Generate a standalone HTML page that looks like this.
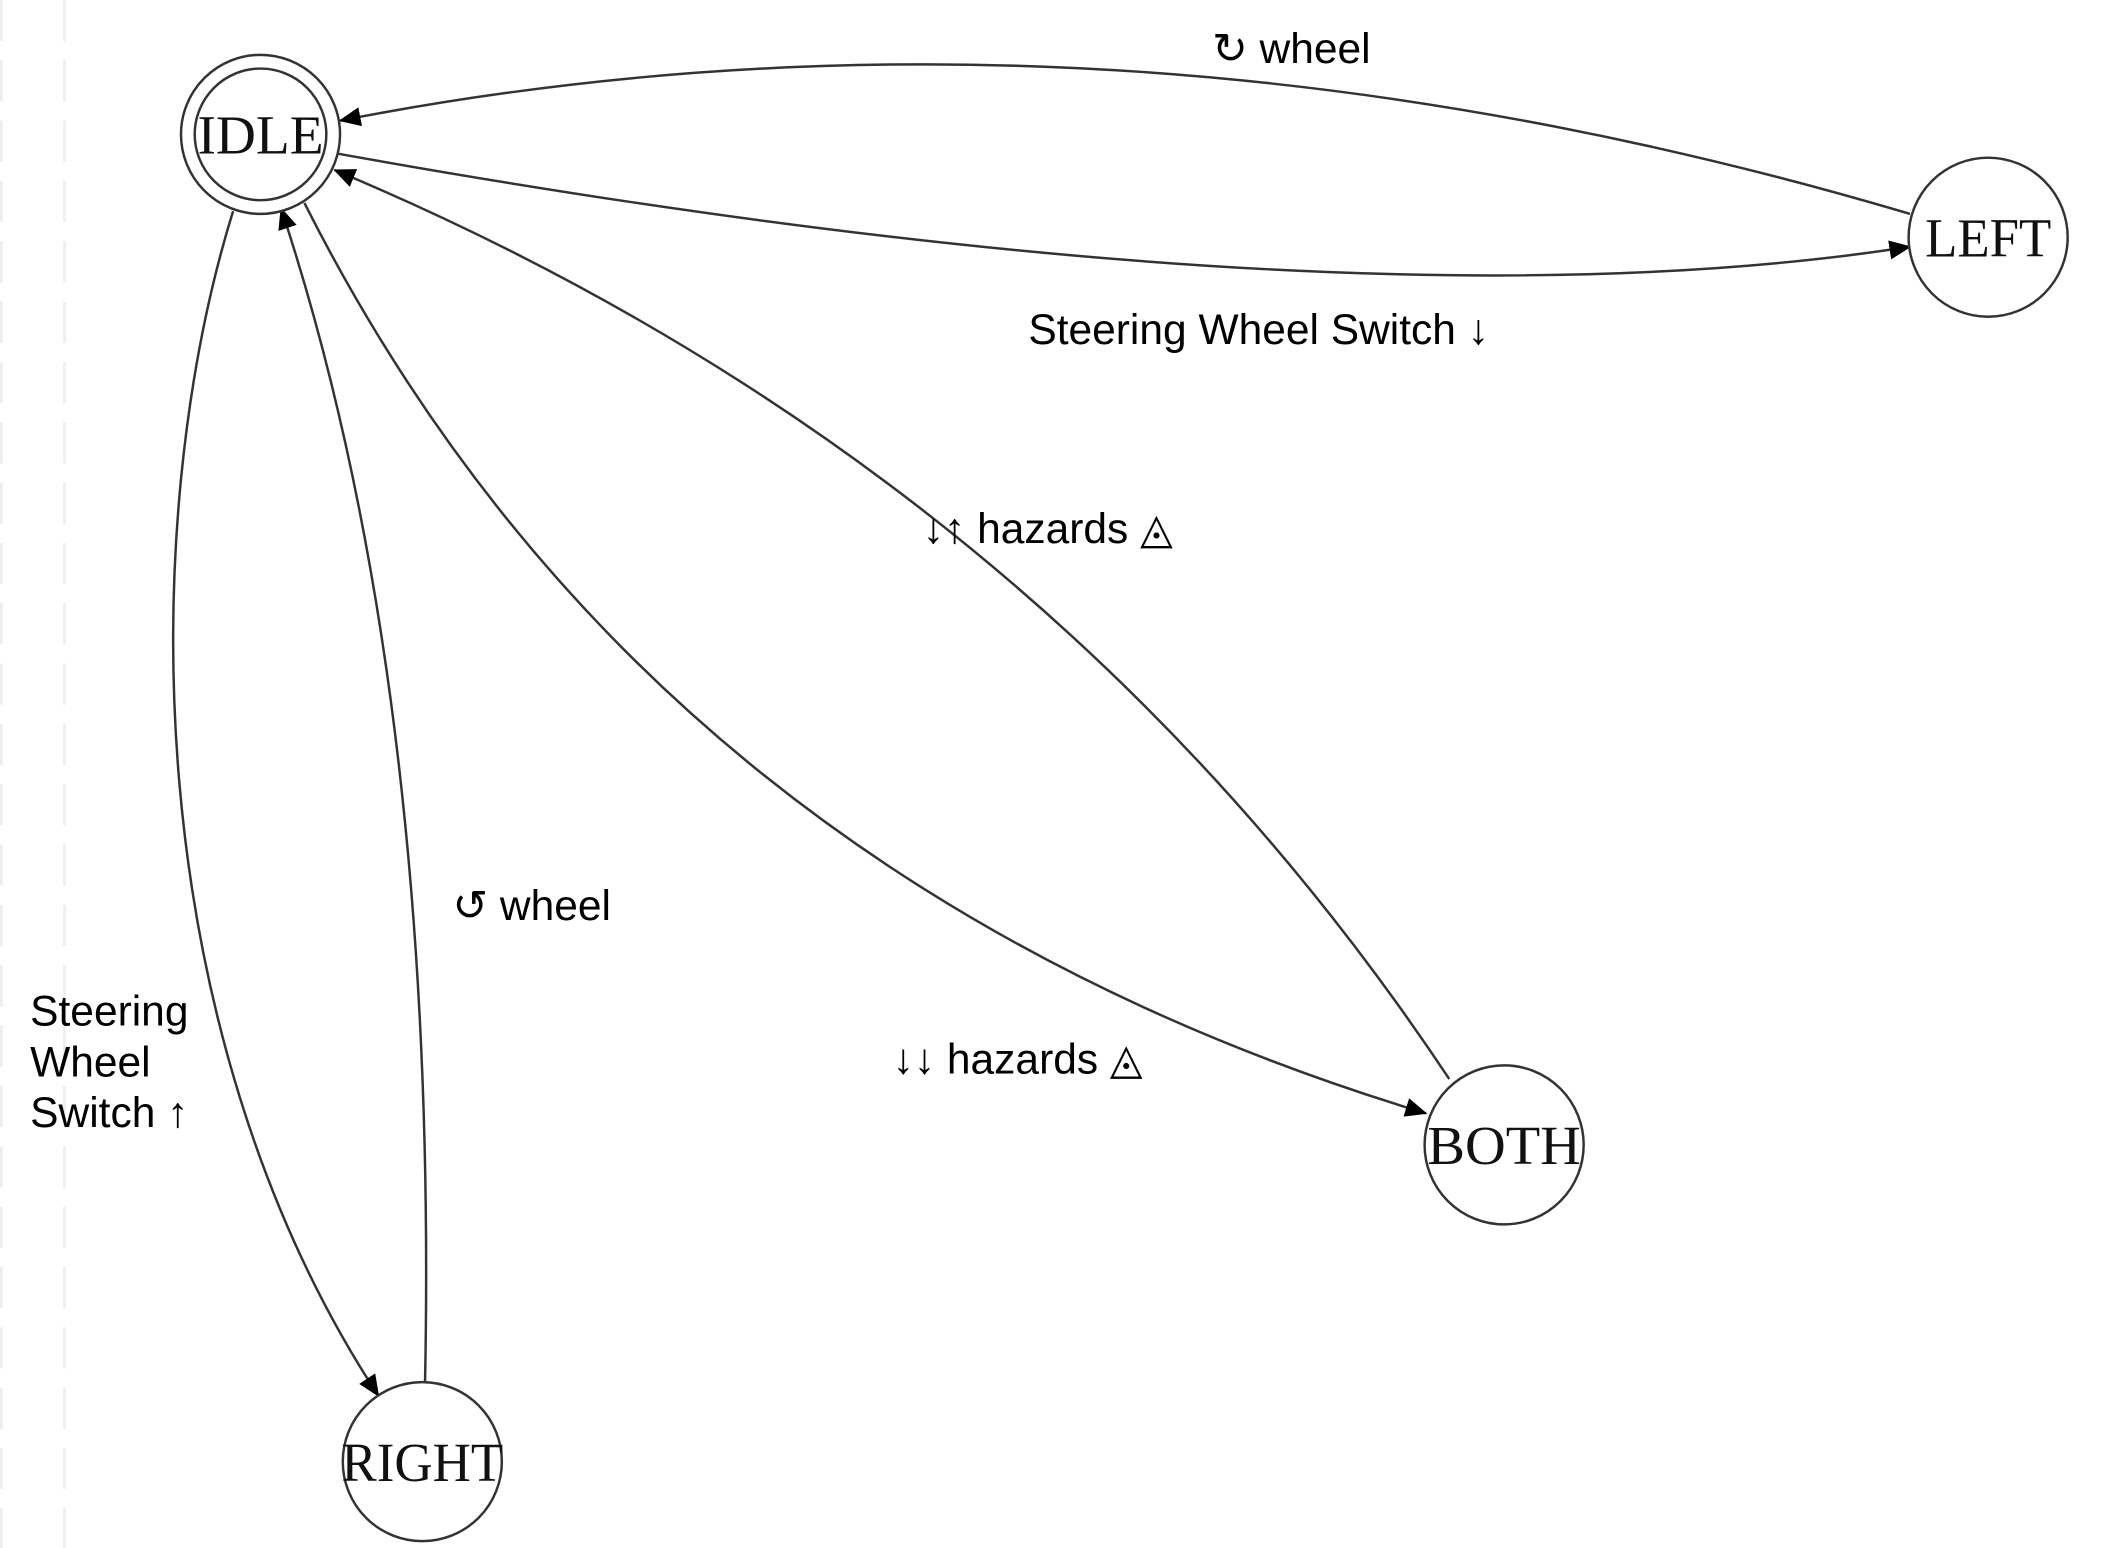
<!DOCTYPE html>
<html><head><meta charset="utf-8"><style>
html,body{margin:0;padding:0;background:#fff;}
svg{display:block;}
.n{font-family:"Liberation Serif","DejaVu Serif",serif;font-size:40px;fill:#111;}
.l{font-family:"Liberation Sans","DejaVu Sans",sans-serif;font-size:31px;fill:#000;}
.e{fill:none;stroke:#333;stroke-width:1.8;}
</style></head><body>
<svg width="2128" height="1548" viewBox="0 0 1552 1129" preserveAspectRatio="none" xmlns="http://www.w3.org/2000/svg">
<defs>
<marker id="b" markerWidth="16" markerHeight="14" refX="15" refY="7" orient="auto" markerUnits="userSpaceOnUse" viewBox="0 0 16 14"><path d="M0,0 L16,7 L0,14 z" fill="#000"/></marker></defs>
<line x1="1" y1="0" x2="1" y2="1129" stroke="#eee" stroke-width="2" stroke-dasharray="30,14"/>
<line x1="47" y1="0" x2="47" y2="1129" stroke="#eee" stroke-width="2" stroke-dasharray="30,14"/>
<path class="e" d="M1393,156 Q800,-20 248,88" marker-end="url(#b)"/>
<path class="e" d="M246,112 Q980,244 1393,180" marker-end="url(#b)"/>
<path class="e" d="M1057,787 Q760,340 244,124" marker-end="url(#b)"/>
<path class="e" d="M222,148 Q470,640 1040,812" marker-end="url(#b)"/>
<path class="e" d="M170,154 C100,380 100,750 276,1018" marker-end="url(#b)"/>
<path class="e" d="M310,1008 Q320,500 205,152" marker-end="url(#b)"/>
<g fill="#fff" stroke="#333" stroke-width="1.8">
<circle cx="190" cy="98" r="58"/><circle cx="190" cy="98" r="48"/>
<circle cx="1450" cy="173" r="58"/>
<circle cx="1097" cy="835" r="58"/>
<circle cx="308" cy="1066" r="58"/>
</g>
<text class="n" x="190" y="112" text-anchor="middle" textLength="92" lengthAdjust="spacingAndGlyphs">IDLE</text>
<text class="n" x="1450" y="187" text-anchor="middle" textLength="92" lengthAdjust="spacingAndGlyphs">LEFT</text>
<text class="n" x="1097" y="849" text-anchor="middle" textLength="112" lengthAdjust="spacingAndGlyphs">BOTH</text>
<text class="n" x="308" y="1080" text-anchor="middle" textLength="118" lengthAdjust="spacingAndGlyphs">RIGHT</text>
<text class="l" x="884" y="46">↻ wheel</text>
<text class="l" x="750" y="251">Steering Wheel Switch ↓</text>
<text class="l" x="673" y="396">↓↑ hazards ◬</text>
<text class="l" x="651" y="783">↓↓ hazards ◬</text>
<text class="l" x="330" y="671">↺ wheel</text>
<text class="l" x="22" y="748">Steering</text>
<text class="l" x="22" y="785">Wheel</text>
<text class="l" x="22" y="822">Switch ↑</text>
</svg>
</body></html>
